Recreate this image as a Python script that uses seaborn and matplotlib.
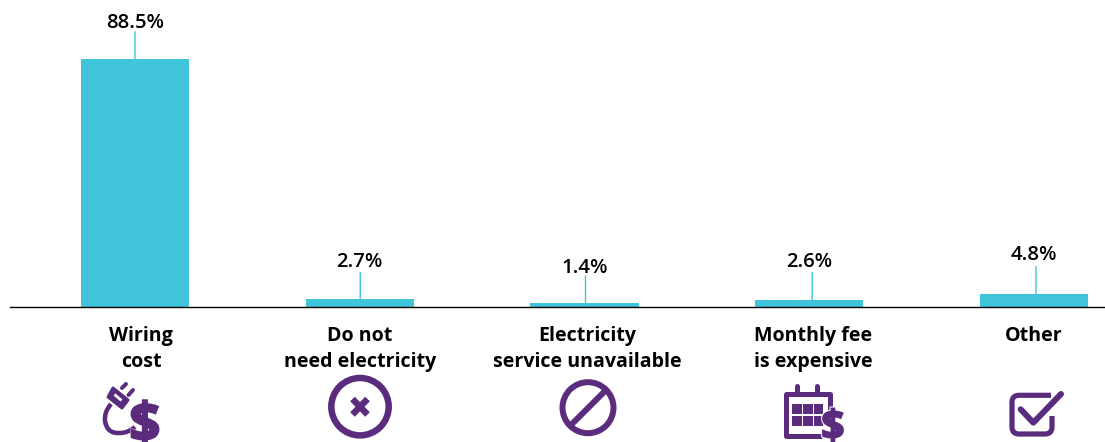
import matplotlib
matplotlib.use("Agg")
import matplotlib.pyplot as plt
import seaborn as sns
import pandas as pd
from matplotlib.patches import Circle, PathPatch, Polygon, Rectangle
from matplotlib.path import Path
from matplotlib.textpath import TextPath
from matplotlib.font_manager import FontProperties
from matplotlib.transforms import Affine2D, ScaledTranslation

categories = ["Wiring\ncost", "Do not\nneed electricity", "Electricity\nservice unavailable",
              "Monthly fee\nis expensive", "Other"]
values = [88.5, 2.7, 1.4, 2.6, 4.8]
value_labels = ["88.5%", "2.7%", "1.4%", "2.6%", "4.8%"]

# layout nudges in pixels
label_dx = [6, 0, 3, 4, 0]
leader_dx = [0, 0.5, 1, 3, 2]
value_dy = [-1, 1, -1, 1, 2]

BAR = "#40C4D9"
PURPLE = "#5B2C7E"
W, H = 1105, 442
sns.set_theme(style="white")
plt.rcParams["font.family"] = ["Open Sans", "DejaVu Sans"]

fig = plt.figure(figsize=(W / 100, H / 100), dpi=100, facecolor="white")
base_y = 307
ax = fig.add_axes([10 / W, (H - base_y) / H, (W - 10) / W, base_y / H])
df = pd.DataFrame({"category": categories, "value": values})
sns.barplot(data=df, x="category", y="value", color=BAR, saturation=1, width=0.482, linewidth=0, ax=ax)
ax.set_xlim((10 - 135) / 224.75, (W - 135) / 224.75)
ax.set_ylim(0, base_y / 2.805)
ax.set_xlabel(""); ax.set_ylabel("")
ax.set_yticks([])
sns.despine(ax=ax, left=True)
ax.spines["bottom"].set_color("black")
ax.spines["bottom"].set_linewidth(1.0)
ax.tick_params(axis="x", length=0, pad=13.5)
for t, dx in zip(ax.get_xticklabels(), label_dx):
    t.set_fontsize(14.1); t.set_fontweight(700); t.set_color("black"); t.set_linespacing(1.42)
    t.set_transform(t.get_transform() + ScaledTranslation(dx / 100, 0, fig.dpi_scale_trans))

for i, (v, lab) in enumerate(zip(values, value_labels)):
    xl = i + leader_dx[i] / 224.75
    ax.annotate("", xy=(xl, v), xycoords="data", xytext=(0, 19.5), textcoords="offset points",
                arrowprops=dict(arrowstyle="-", color=BAR, lw=1.0, shrinkA=0, shrinkB=0))
    ax.annotate(lab, xy=(i, v), xytext=(0, 19 + value_dy[i] * 0.72), textcoords="offset points",
                ha="center", va="bottom", fontsize=14.6, fontweight=600, color="black")

# Icon overlay, in figure pixels
ov = fig.add_axes([0, 0, 1, 1], facecolor="none")
ov.set_xlim(0, W); ov.set_ylim(H, 0); ov.axis("off")
LW = 0.72  # points per pixel

def line(pts, w, cap="round", color=PURPLE, join="round", z=3):
    xs, ys = zip(*pts)
    ov.plot(xs, ys, color=color, lw=w * LW, solid_capstyle=cap, solid_joinstyle=join, zorder=z)

def dollar(cx, cy, h, halo=0, stroke=2.0):
    fp = FontProperties(family="Open Sans", weight="bold")
    tp = TextPath((0, 0), "$", size=100, prop=fp)
    bb = tp.get_extents()
    s = h / bb.height
    tr = Affine2D().translate(-(bb.x0 + bb.x1) / 2, -(bb.y0 + bb.y1) / 2).scale(s, -s).translate(cx, cy)
    p = tp.transformed(tr)
    if halo:
        ov.add_patch(PathPatch(p, fc="white", ec="white", lw=halo * LW, zorder=4))
    ov.add_patch(PathPatch(p, fc=PURPLE, ec=PURPLE, lw=stroke * LW, zorder=5))

# plug and dollar
ov.add_patch(Polygon([(113, 388), (128, 400), (122, 408), (108, 397)], closed=True, fc=PURPLE, ec=PURPLE,
                     lw=3 * LW, joinstyle="round", zorder=3))
line([(114.5, 394.5), (121.5, 400.5)], 2.8, color="white", z=4, cap="butt")
line([(122, 388), (126, 384)], 4)
line([(128.5, 395), (133, 390)], 4)
ov.add_patch(PathPatch(Path([(111, 404), (104, 412), (105, 421), (107, 434), (120, 433), (128, 433), (135, 427)],
                            [Path.MOVETO, Path.CURVE3, Path.CURVE3, Path.CURVE3, Path.CURVE3, Path.CURVE3, Path.CURVE3]),
                       fc="none", ec=PURPLE, lw=4.5 * LW, zorder=3))
dollar(145, 422.5, 44, halo=3, stroke=2.5)

# circled x
ov.add_patch(Circle((360, 406.7), 28.7, fc="none", ec=PURPLE, lw=6.5 * LW))
line([(352.5, 399), (367.5, 414.5)], 6.5, cap="butt")
line([(367.5, 399), (352.5, 414.5)], 6.5, cap="butt")

# no symbol
ov.add_patch(Circle((588, 407.7), 25.5, fc="none", ec=PURPLE, lw=6 * LW))
line([(570, 426), (606, 390)], 6, cap="butt")

# calendar
line([(822, 436), (786, 436), (786, 394), (829.5, 394), (829.5, 413)], 5, join="round", cap="butt")
line([(797.3, 385.5), (797.3, 394)], 5)
line([(817.3, 385.5), (817.3, 394)], 5)
for cx in (792.3, 803.3, 814):
    for cy in (404, 416):
        ov.add_patch(Rectangle((cx, cy), 9.4, 9.6, fc=PURPLE, ec="none"))
dollar(833, 425, 33, halo=4, stroke=2.0)

# check box
ov.add_patch(PathPatch(Path([(1051, 395.3), (1019, 395.3), (1012, 395.3), (1012, 402), (1012, 427),
                             (1012, 434), (1019, 434), (1045, 434), (1052, 434), (1052, 427), (1052, 416)],
                            [Path.MOVETO, Path.LINETO, Path.CURVE3, Path.CURVE3, Path.LINETO, Path.CURVE3,
                             Path.CURVE3, Path.LINETO, Path.CURVE3, Path.CURVE3, Path.LINETO]),
                       fc="none", ec=PURPLE, lw=5.2 * LW, capstyle="butt"))
line([(1020.7, 409.3), (1033.3, 422.7), (1061, 394)], 6)

fig.savefig("out.png", dpi=100, facecolor="white")
